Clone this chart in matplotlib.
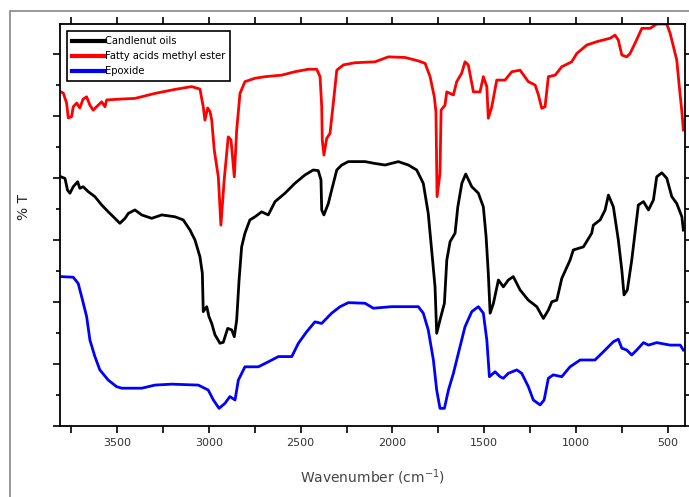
import numpy as np
import matplotlib
matplotlib.use("Agg")
import matplotlib.pyplot as plt
from matplotlib.patches import Rectangle
from matplotlib.ticker import MultipleLocator

# FTIR spectra (wavenumber in cm-1, %T in arbitrary offset units)
fame_wn = [3805, 3792, 3774, 3765, 3747, 3738, 3719, 3702, 3684, 3665, 3647, 3629, 3611, 3583,
           3565, 3556, 3474, 3402, 3293, 3184, 3093, 3048, 3030, 3021, 3006, 2993, 2984, 2970,
           2948, 2934, 2916, 2894, 2879, 2861, 2848, 2830, 2803, 2748, 2694, 2603, 2531, 2458,
           2412, 2394, 2385, 2382, 2373, 2358, 2340, 2322, 2303, 2267, 2204, 2095, 2022, 1931,
           1859, 1822, 1795, 1772, 1763, 1757, 1741, 1735, 1714, 1704, 1668, 1650, 1623, 1605,
           1587, 1559, 1523, 1505, 1486, 1478, 1459, 1432, 1387, 1350, 1305, 1260, 1223, 1205,
           1187, 1169, 1151, 1114, 1078, 1024, 996, 942, 887, 815, 788, 770, 751, 724, 706, 679,
           642, 597, 561, 506, 488, 452, 438, 424, 416]
fame_t = [10.78, 10.74, 10.42, 9.94, 9.98, 10.30, 10.42, 10.26, 10.55, 10.62, 10.35, 10.19, 10.30, 10.46,
          10.30, 10.52, 10.55, 10.57, 10.73, 10.86, 10.95, 10.87, 10.30, 9.87, 10.26, 10.14, 9.87, 8.90,
          8.04, 6.48, 7.94, 9.33, 9.23, 8.04, 9.55, 10.73, 11.11, 11.22, 11.27, 11.32, 11.43, 11.51,
          11.51, 11.27, 10.30, 9.23, 8.74, 9.28, 9.44, 10.41, 11.48, 11.65, 11.72, 11.75, 11.91, 11.89,
          11.78, 11.70, 11.27, 10.62, 10.14, 7.40, 8.16, 10.19, 10.35, 10.78, 10.68, 11.11, 11.38, 11.75,
          11.65, 10.78, 10.78, 11.27, 10.95, 9.93, 10.30, 11.16, 11.16, 11.43, 11.48, 11.11, 11.00, 10.68,
          10.25, 10.30, 11.27, 11.32, 11.59, 11.75, 12.02, 12.29, 12.40, 12.51, 12.61, 12.45, 11.97, 11.91, 12.02, 12.35,
          12.83, 12.83, 12.97, 12.97, 12.67, 11.81, 10.95, 10.14, 9.55]

oil_wn = [3805, 3783, 3769, 3756, 3738, 3714, 3702, 3684, 3656, 3620, 3583, 3547, 3511, 3484,
          3456, 3438, 3402, 3365, 3311, 3256, 3184, 3139, 3102, 3075, 3048, 3035, 3030, 3011,
          2999, 2984, 2966, 2939, 2921, 2897, 2875, 2861, 2848, 2835, 2821, 2803, 2776, 2748,
          2712, 2676, 2639, 2585, 2531, 2476, 2431, 2404, 2389, 2385, 2373, 2349, 2331, 2303,
          2276, 2240, 2149, 2095, 2040, 1968, 1913, 1868, 1832, 1805, 1783, 1768, 1759, 1741,
          1717, 1704, 1686, 1659, 1644, 1622, 1601, 1568, 1532, 1505, 1490, 1478, 1468, 1450,
          1423, 1396, 1369, 1342, 1305, 1260, 1214, 1178, 1151, 1132, 1105, 1078, 1033, 1015,
          960, 915, 906, 869, 842, 824, 797, 770, 751, 739, 721, 697, 661, 633, 606, 579,
          561, 533, 506, 479, 452, 424, 416]
oil_t = [8.04, 7.99, 7.61, 7.51, 7.72, 7.88, 7.67, 7.72, 7.56, 7.40, 7.13, 6.91, 6.70, 6.54,
         6.70, 6.86, 6.97, 6.81, 6.70, 6.81, 6.75, 6.65, 6.32, 6.00, 5.46, 4.93, 3.69, 3.85,
         3.53, 3.31, 2.94, 2.67, 2.70, 3.15, 3.10, 2.88, 3.42, 4.71, 5.78, 6.22, 6.65, 6.75,
         6.91, 6.81, 7.24, 7.51, 7.83, 8.10, 8.26, 8.24, 7.94, 6.97, 6.81, 7.18, 7.61, 8.26,
         8.42, 8.53, 8.53, 8.47, 8.42, 8.53, 8.42, 8.26, 7.83, 6.86, 5.46, 4.49, 2.99, 3.42,
         3.96, 5.35, 5.95, 6.22, 7.07, 7.83, 8.13, 7.72, 7.51, 7.07, 6.11, 4.93, 3.64, 3.96,
         4.71, 4.49, 4.71, 4.82, 4.39, 4.06, 3.85, 3.47, 3.74, 4.01, 4.06, 4.76, 5.35, 5.68,
         5.78, 6.22, 6.48, 6.65, 6.97, 7.45, 7.07, 6.00, 5.03, 4.23, 4.39, 5.35, 7.13, 7.24, 6.97, 7.29,
         8.04, 8.17, 7.99, 7.40, 7.18, 6.75, 6.32]

epox_wn = [3805, 3738, 3711, 3692, 3665, 3647, 3620, 3593, 3547, 3502, 3474, 3365, 3293, 3202,
           3057, 3003, 2975, 2944, 2912, 2885, 2857, 2839, 2803, 2730, 2676, 2621, 2548, 2512,
           2467, 2422, 2385, 2331, 2285, 2240, 2149, 2104, 2004, 1859, 1832, 1805, 1777, 1759,
           1741, 1717, 1695, 1668, 1632, 1605, 1568, 1532, 1505, 1486, 1472, 1441, 1414, 1396,
           1369, 1323, 1296, 1260, 1233, 1196, 1174, 1151, 1124, 1078, 1033, 978, 897, 842,
           797, 770, 751, 724, 697, 670, 633, 606, 561, 488, 433, 416]
epox_t = [4.82, 4.80, 4.60, 4.17, 3.53, 2.77, 2.24, 1.81, 1.48, 1.27, 1.22, 1.22, 1.32, 1.35,
          1.32, 1.16, 0.84, 0.57, 0.73, 0.95, 0.84, 1.48, 1.91, 1.91, 2.07, 2.24, 2.24, 2.67,
          3.04, 3.36, 3.31, 3.64, 3.85, 3.98, 3.96, 3.80, 3.85, 3.85, 3.64, 3.10, 2.13, 1.16,
          0.57, 0.57, 1.16, 1.70, 2.56, 3.20, 3.69, 3.85, 3.64, 2.77, 1.59, 1.75, 1.59, 1.54,
          1.70, 1.81, 1.70, 1.27, 0.84, 0.68, 0.84, 1.54, 1.65, 1.59, 1.91, 2.13, 2.13, 2.45,
          2.72, 2.80, 2.51, 2.45, 2.29, 2.45, 2.69, 2.61, 2.69, 2.61, 2.61, 2.45]

labels = ["Candlenut oils", "Fatty acids methyl ester", "Epoxide"]

fig = plt.figure(figsize=(6.89, 4.97), dpi=100)
ax = fig.add_axes([60/689, 1-426/497, 625/689, 402/497])

ax.plot(oil_wn, oil_t, color="black", lw=2, label=labels[0])
ax.plot(fame_wn, fame_t, color="red", lw=2, label=labels[1])
ax.plot(epox_wn, epox_t, color="blue", lw=2, label=labels[2])

ax.set_xlim(3810, 407)
ax.set_ylim(0, 12.97)

ax.xaxis.set_major_locator(MultipleLocator(500))
ax.xaxis.set_minor_locator(MultipleLocator(250))
ax.yaxis.set_major_locator(MultipleLocator(2))
ax.yaxis.set_minor_locator(MultipleLocator(1))
ax.tick_params(which="both", direction="out", top=True, right=True, width=1.2,
               labelsize=8, labelcolor="#333333")
ax.tick_params(which="major", length=5)
ax.tick_params(which="minor", length=3)
ax.tick_params(axis="x", which="minor", length=5)
ax.set_yticklabels([])
for s in ax.spines.values():
    s.set_linewidth(1.3)

ax.set_xlabel("Wavenumber (cm$^{-1}$)", fontsize=10, color="#444444", labelpad=14)
ax.set_ylabel("% T", fontsize=10, color="#222222")
ax.yaxis.set_label_coords(-0.047, 0.545)

leg = ax.legend(loc="upper left", bbox_to_anchor=(7/625, 1-7/402), borderaxespad=0,
                fontsize=7.2, handlelength=3.3, handletextpad=0.0, labelspacing=0.5,
                fancybox=False, framealpha=1, edgecolor="black", borderpad=0.5)
leg.get_frame().set_linewidth(1.2)
for h in leg.get_lines():
    h.set_linewidth(3)

fig.patches.append(Rectangle((10/689, -0.01), 1, 1 - 11/497 + 0.01, transform=fig.transFigure,
                             fill=False, edgecolor="#888888", lw=1.2))

fig.savefig("out.png", dpi=100)
